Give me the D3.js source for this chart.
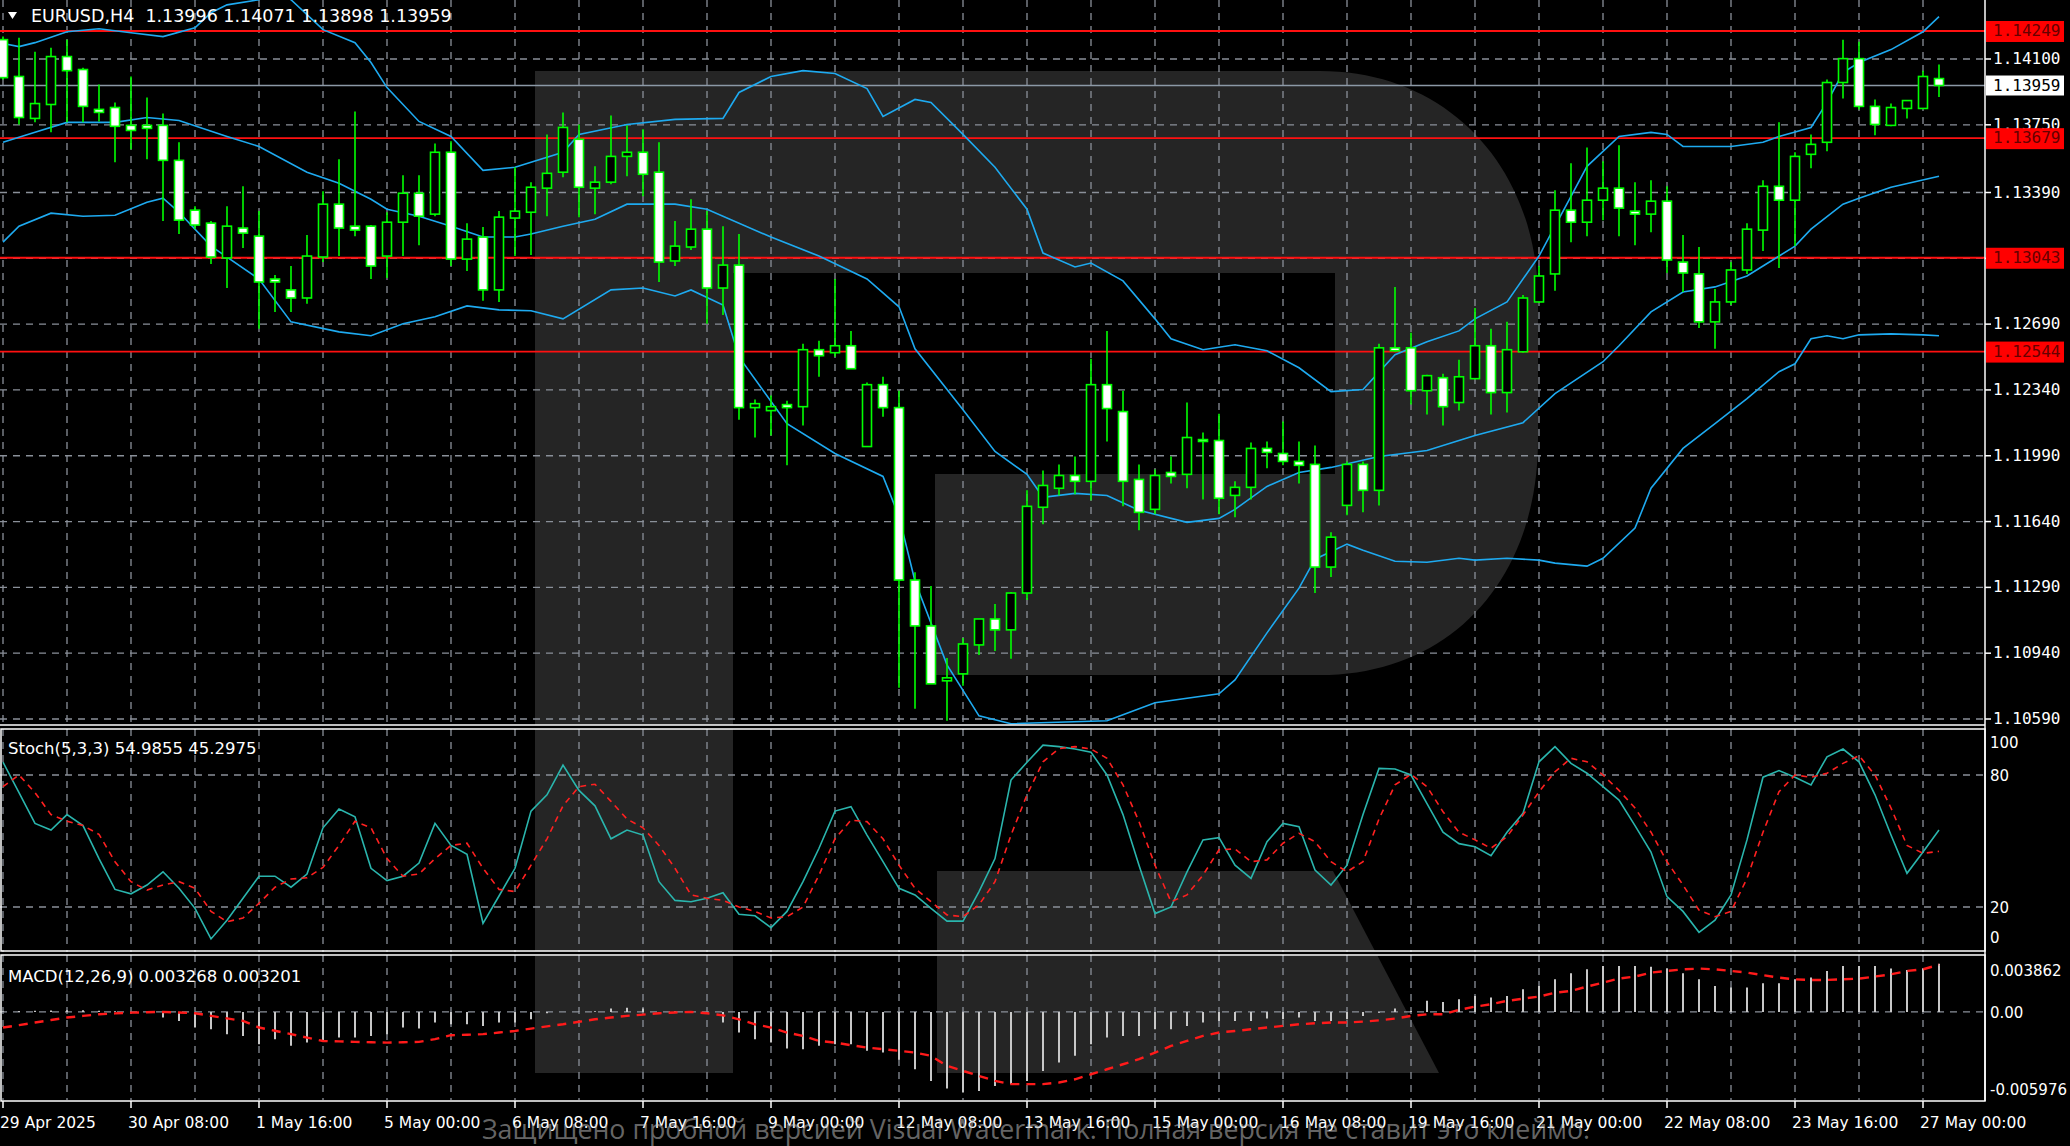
<!DOCTYPE html>
<html><head><meta charset="utf-8">
<script src="https://cdn.jsdelivr.net/npm/d3@7/dist/d3.min.js"></script>
<style>html,body{margin:0;padding:0;background:#000;overflow:hidden}</style>
</head><body><svg id="c" width="2070" height="1146"></svg>
<script>
const openP=[1.14203,1.14007,1.13784,1.13858,1.14113,1.14044,1.13832,1.13842,1.13747,1.13747,1.13747,1.13561,1.13296,1.13227,1.13042,1.13201,1.13158,1.12930,1.12872,1.12829,1.13047,1.13328,1.13211,1.13211,1.13052,1.13232,1.13386,1.13275,1.13604,1.13036,1.13153,1.12872,1.13254,1.13285,1.13413,1.13498,1.13673,1.13413,1.13445,1.13582,1.13604,1.13498,1.13026,1.13100,1.13195,1.12882,1.13004,1.12246,1.12230,1.12262,1.12251,1.12554,1.12538,1.12575,1.12039,1.12368,1.12246,1.11329,1.11085,1.10793,1.10830,1.10984,1.11122,1.11064,1.11260,1.11716,1.11817,1.11885,1.11854,1.12368,1.12225,1.11864,1.11705,1.11901,1.11891,1.12076,1.12071,1.11779,1.11822,1.12029,1.12002,1.11960,1.11944,1.11398,1.11726,1.11944,1.11806,1.12564,1.12564,1.12336,1.12405,1.12273,1.12400,1.12575,1.12326,1.12543,1.12808,1.12957,1.13296,1.13232,1.13349,1.13413,1.13291,1.13275,1.13344,1.13020,1.12957,1.12702,1.12808,1.12978,1.13190,1.13423,1.13349,1.13593,1.13657,1.13975,1.14102,1.13848,1.13747,1.13837,1.13837,1.13996];
const highP=[1.14219,1.14213,1.14139,1.14160,1.14203,1.14054,1.13964,1.13869,1.14007,1.13895,1.13810,1.13657,1.13317,1.13238,1.13317,1.13423,1.13291,1.12951,1.12999,1.13164,1.13397,1.13567,1.13821,1.13217,1.13285,1.13482,1.13482,1.13651,1.13662,1.13227,1.13206,1.13291,1.13524,1.13445,1.13699,1.13816,1.13752,1.13529,1.13800,1.13747,1.13726,1.13657,1.13238,1.13354,1.13291,1.13211,1.13169,1.12289,1.12310,1.12283,1.12585,1.12601,1.12930,1.12654,1.12379,1.12410,1.12336,1.11371,1.11297,1.10915,1.11021,1.11122,1.11201,1.11265,1.11806,1.11912,1.11944,1.11986,1.12506,1.12654,1.12336,1.11944,1.11917,1.11986,1.12273,1.12113,1.12214,1.11854,1.12060,1.12066,1.12172,1.12066,1.12045,1.11583,1.11960,1.11960,1.12585,1.12888,1.12644,1.12421,1.12426,1.12501,1.12776,1.12665,1.12702,1.12845,1.12999,1.13402,1.13545,1.13630,1.13556,1.13641,1.13445,1.13455,1.13423,1.13164,1.13100,1.12877,1.13020,1.13227,1.13455,1.13763,1.13604,1.13699,1.13991,1.14203,1.14192,1.13885,1.13863,1.13879,1.14038,1.14071];
const lowP=[1.13991,1.13752,1.13763,1.13710,1.13763,1.13763,1.13768,1.13551,1.13620,1.13567,1.13238,1.13169,1.13195,1.13010,1.12882,1.13095,1.12665,1.12755,1.12755,1.12798,1.13020,1.13052,1.13158,1.12930,1.12935,1.13052,1.13110,1.13264,1.12999,1.12973,1.12814,1.12808,1.13052,1.13057,1.13264,1.13471,1.13259,1.13275,1.13434,1.13476,1.13370,1.12914,1.12999,1.13084,1.12692,1.12739,1.12182,1.12087,1.12098,1.11939,1.12151,1.12410,1.12517,1.12453,1.12039,1.12198,1.10756,1.10645,1.10777,1.10581,1.10767,1.10931,1.10952,1.10910,1.11223,1.11626,1.11779,1.11785,1.11753,1.12066,1.11721,1.11594,1.11679,1.11843,1.11817,1.11758,1.11679,1.11663,1.11758,1.11923,1.11939,1.11843,1.11260,1.11345,1.11673,1.11689,1.11726,1.12543,1.12262,1.12209,1.12151,1.12230,1.12400,1.12209,1.12220,1.12538,1.12803,1.12867,1.13126,1.13158,1.13243,1.13158,1.13110,1.13179,1.12962,1.12861,1.12670,1.12559,1.12792,1.12957,1.13079,1.12988,1.13105,1.13519,1.13609,1.13890,1.13832,1.13694,1.13742,1.13784,1.13837,1.13898];
const closeP=[1.14001,1.13789,1.13863,1.14113,1.14038,1.13848,1.13816,1.13742,1.13720,1.13731,1.13561,1.13243,1.13217,1.13047,1.13211,1.13174,1.12914,1.12914,1.12829,1.13052,1.13328,1.13201,1.13190,1.12999,1.13232,1.13386,1.13264,1.13604,1.13036,1.13142,1.12872,1.13259,1.13291,1.13418,1.13492,1.13736,1.13418,1.13445,1.13582,1.13604,1.13487,1.13020,1.13105,1.13195,1.12882,1.13004,1.12246,1.12267,1.12251,1.12246,1.12554,1.12522,1.12575,1.12453,1.12368,1.12246,1.11329,1.11085,1.10777,1.10809,1.10989,1.11122,1.11064,1.11260,1.11721,1.11832,1.11885,1.11854,1.12368,1.12241,1.11854,1.11689,1.11885,1.11880,1.12087,1.12066,1.11764,1.11822,1.12029,1.12008,1.11960,1.11939,1.11398,1.11557,1.11944,1.11806,1.12564,1.12548,1.12336,1.12416,1.12251,1.12410,1.12575,1.12326,1.12554,1.12829,1.12946,1.13296,1.13232,1.13349,1.13413,1.13307,1.13275,1.13344,1.13031,1.12962,1.12702,1.12808,1.12978,1.13195,1.13423,1.13349,1.13582,1.13646,1.13975,1.14102,1.13848,1.13752,1.13842,1.13879,1.14007,1.13959];

const bbUpper=[[0,1.14182],[1,1.14166],[2,1.14187],[4,1.14245],[6,1.14261],[8,1.14240],[10,1.14219],[12,1.14266],[13,1.14346],[14,1.14388],[16,1.14415],[17,1.14479],[18,1.14415],[20,1.14256],[22,1.14187],[23,1.14081],[24,1.13948],[26,1.13768],[28,1.13688],[30,1.13508],[32,1.13524],[35,1.13604],[36,1.13699],[39,1.13752],[42,1.13779],[45,1.13784],[46,1.13922],[48,1.14007],[50,1.14038],[52,1.14023],[54,1.13943],[55,1.13795],[57,1.13885],[58,1.13869],[60,1.13699],[62,1.13524],[64,1.13301],[65,1.13068],[67,1.12994],[68,1.13015],[70,1.12920],[72,1.12718],[73,1.12612],[75,1.12554],[77,1.12580],[79,1.12548],[81,1.12458],[83,1.12331],[85,1.12342],[87,1.12527],[89,1.12596],[91,1.12654],[92,1.12718],[94,1.12808],[96,1.13052],[97,1.13211],[98,1.13370],[99,1.13529],[101,1.13688],[103,1.13710],[104,1.13699],[105,1.13635],[108,1.13635],[110,1.13657],[111,1.13688],[113,1.13736],[114,1.13869],[115,1.14028],[116,1.14081],[118,1.14150],[120,1.14245],[121,1.14325]];
const bbMiddle=[[0,1.13657],[2,1.13710],[4,1.13763],[7,1.13763],[9,1.13789],[11,1.13773],[14,1.13688],[16,1.13635],[19,1.13498],[21,1.13439],[23,1.13354],[24,1.13301],[26,1.13264],[28,1.13211],[30,1.13153],[32,1.13153],[33,1.13169],[35,1.13211],[37,1.13248],[39,1.13328],[42,1.13328],[44,1.13301],[48,1.13153],[51,1.13052],[54,1.12930],[56,1.12782],[57,1.12559],[60,1.12235],[62,1.12013],[64,1.11891],[65,1.11769],[67,1.11790],[69,1.11779],[71,1.11700],[74,1.11636],[76,1.11657],[77,1.11705],[79,1.11827],[81,1.11901],[83,1.11928],[86,1.11986],[89,1.12018],[92,1.12098],[95,1.12166],[97,1.12320],[100,1.12490],[101,1.12575],[103,1.12755],[105,1.12861],[107,1.12888],[109,1.12946],[110,1.12999],[112,1.13105],[113,1.13195],[115,1.13328],[116,1.13360],[118,1.13418],[121,1.13476]];
const bbLower=[[0,1.13126],[1,1.13211],[3,1.13280],[5,1.13264],[7,1.13269],[9,1.13338],[10,1.13360],[11,1.13285],[13,1.13105],[16,1.12930],[18,1.12702],[21,1.12649],[23,1.12628],[25,1.12692],[27,1.12729],[29,1.12787],[31,1.12766],[33,1.12761],[35,1.12718],[38,1.12872],[40,1.12882],[42,1.12840],[43,1.12872],[45,1.12792],[46,1.12516],[49,1.12161],[52,1.12002],[55,1.11880],[56,1.11668],[57,1.11323],[59,1.10878],[61,1.10607],[63,1.10565],[69,1.10581],[70,1.10613],[72,1.10676],[76,1.10724],[77,1.10798],[79,1.11048],[81,1.11286],[82,1.11440],[84,1.11520],[85,1.11488],[87,1.11429],[89,1.11424],[91,1.11445],[92,1.11435],[94,1.11445],[96,1.11435],[97,1.11419],[99,1.11403],[100,1.11445],[102,1.11605],[103,1.11817],[105,1.12029],[107,1.12161],[109,1.12294],[111,1.12437],[112,1.12479],[113,1.12612],[114,1.12628],[115,1.12612],[116,1.12633],[118,1.12638],[120,1.12633],[121,1.12628]];

const stochK=[85.8,72,58,55,62,57,42,28,26,30,36,28.5,19.4,5.5,14,24,34,34,29,35,56,64.5,61,37.6,32,34,40,58,48,44,12.6,25,37.6,63.6,71,84.5,73,66,51,55,52.7,31.5,23,22.4,24,26.5,16.7,16,10.6,18,31.5,46.7,63.6,65.6,52.7,40.6,28.5,25.5,19.4,13.6,13.6,27,42,77.7,85.8,93.6,92.9,91.8,90.3,80,62,39,17,20,36,50.5,51.5,39,33,49.7,58,56.5,36.8,30,39,62,83,82.7,80,67,54,48.8,47.4,43.3,54,62.6,86,92.9,85.3,80.8,74.7,68.6,57,45,24.7,18,8.5,14,25.5,50.5,79,82,79,75.5,88.3,91.8,86,71,52.7,35.3,45,54.9855];
const stochD=[74.7,80,72,62,59,57,53,40.6,31.5,27.7,30,31.5,28.5,18,13.3,15,21.7,29,32.7,33.3,38,48,59,56,42,34,35,42,48,49,37.6,28,27,39,51,66,74.7,75.8,68,60,56,48,37.6,25.5,24,23,20,18,15,15.6,20,34.5,51,59.5,58.8,51,39,28.5,22.4,16.4,15.6,21,31.5,52.7,71,86,92,92.9,91.8,87.6,75.5,58.8,39,22.4,25.5,34.5,46,46.4,40.6,41.4,49,53.5,49.7,40.6,36,40.6,60,75.5,80.3,74.7,63.3,54,50.5,46.7,52,61.8,72.4,81.5,87.6,86,80,73,65,54,40.6,30,18.6,15.6,18,33,54,72.4,80,79,80.8,85.3,88.8,80,65,48,44.4,45.2975];
const macdHist=[0.00004,0.00006,0.00008,0.0001,0.00012,0.00012,0.00008,0.00004,-0.00002,-0.00008,-0.00038,-0.00061,-0.00106,-0.00117,-0.00151,-0.00163,-0.00219,-0.00185,-0.0023,-0.00208,-0.00197,-0.00174,-0.00174,-0.00163,-0.00151,-0.00106,-0.00113,-0.00072,-0.00084,-0.00084,-0.00095,-0.00072,-0.00072,-0.0005,-0.00009,0,0.00002,0.00005,0.00023,0.00029,0.00023,0,0.00005,0.00005,-0.00005,-0.00072,-0.0014,-0.00185,-0.00208,-0.00249,-0.00253,-0.0023,-0.00219,-0.00219,-0.00264,-0.00276,-0.00325,-0.00389,-0.00468,-0.0052,-0.00547,-0.00536,-0.00502,-0.0049,-0.00468,-0.004,-0.00343,-0.00298,-0.00219,-0.00174,-0.00163,-0.00163,-0.00118,-0.00118,-0.00095,-0.00072,-0.00061,-0.00061,-0.00061,-0.00045,-0.0005,-0.00038,-0.00061,-0.00061,-0.0005,-0.00027,-0.00005,0.00023,0.00007,0.00075,0.00068,0.00086,0.00108,0.00097,0.00108,0.00154,0.00176,0.00221,0.00262,0.00289,0.00312,0.00312,0.00312,0.00307,0.00294,0.00262,0.00221,0.00176,0.00165,0.00165,0.00194,0.00194,0.00221,0.00233,0.00278,0.00312,0.00312,0.00312,0.00294,0.00285,0.00294,0.003268];
const macdSignal=[-0.00106,-0.0009,-0.00072,-0.00055,-0.00038,-0.00027,-0.00016,-0.0001,-0.00005,-0.00002,0,-0.00004,-0.00009,-0.00027,-0.00044,-0.00061,-0.00106,-0.00128,-0.00151,-0.00174,-0.00197,-0.002,-0.00203,-0.00206,-0.00208,-0.00206,-0.00203,-0.00185,-0.00158,-0.00155,-0.00151,-0.0014,-0.00129,-0.00113,-0.00098,-0.00084,-0.00067,-0.0005,-0.00038,-0.00027,-0.00018,-0.00009,-0.00004,0,-0.00009,-0.00023,-0.0005,-0.00084,-0.00106,-0.0014,-0.00163,-0.00197,-0.00208,-0.00226,-0.00242,-0.00253,-0.00264,-0.00276,-0.00298,-0.00366,-0.004,-0.00434,-0.00468,-0.0049,-0.0049,-0.0049,-0.00479,-0.00457,-0.00423,-0.00389,-0.00355,-0.00321,-0.00276,-0.00231,-0.00197,-0.00163,-0.0014,-0.00129,-0.00118,-0.00106,-0.00095,-0.00084,-0.00077,-0.00072,-0.00072,-0.00066,-0.00057,-0.00045,-0.00027,-0.00016,-0.00016,0.00014,0.00036,0.00052,0.00075,0.0009,0.00104,0.00131,0.00142,0.00172,0.00199,0.00226,0.0024,0.00267,0.00278,0.00289,0.00294,0.00289,0.00278,0.00267,0.00249,0.00233,0.00221,0.00217,0.00217,0.00221,0.00226,0.0024,0.00255,0.00278,0.00289,0.003201];

const priceTicks=[1.14100,1.13750,1.13390,1.13040,1.12690,1.12340,1.11990,1.11640,1.11290,1.10940,1.10590];
const levels=[1.14249,1.13679,1.13043,1.12544];
const currentPrice=1.13959;
const stochLevels=[80,20];
const stochTicks=[100,80,20,0];
const macdTicks=[0.003862,0.00,-0.005976];
const dateIdx=[0,8,16,24,32,40,48,56,64,72,80,88,96,104,112,120];
const dateLabels=["29 Apr 2025","30 Apr 08:00","1 May 16:00","5 May 00:00","6 May 08:00","7 May 16:00","9 May 00:00","12 May 08:00","13 May 16:00","15 May 00:00","16 May 08:00","19 May 16:00","21 May 00:00","22 May 08:00","23 May 16:00","27 May 00:00"];
const title="EURUSD,H4  1.13996 1.14071 1.13898 1.13959";
const stochTitle="Stoch(5,3,3) 54.9855 45.2975";
const macdTitle="MACD(12,26,9) 0.003268 0.003201";
const watermark="Защищено пробной версией Visual Watermark. Полная версия не ставит это клеймо.";

const svg=d3.select("#c");
const RX=1985;
const x=d3.scaleLinear().domain([0,121]).range([3,1939]);
const y=d3.scaleLinear().domain([1.10590,1.14100]).range([719,59]);
const ys=d3.scaleLinear().domain([0,100]).range([951,731]);
const ym=d3.scaleLinear().domain([-0.005976,0.003862]).range([1100,955]);
const GRID="#8a9099", BLUE="#1eaaf0", LIME="#00ff00";
svg.append("rect").attr("width",2070).attr("height",1146).attr("fill","#000");
const defs=svg.append("defs");
[["cm",0,0,RX,725],["cs",0,729,RX,223],["cmacd",0,955,RX,146]].forEach(c=>defs.append("clipPath").attr("id",c[0]).append("rect").attr("x",c[1]).attr("y",c[2]).attr("width",c[3]).attr("height",c[4]));

// logo
const logo=svg.append("g").attr("fill","#252525");
logo.append("path").attr("d","M535,71 H1320 C1450,71 1538,170 1538,300 V440 C1538,580 1450,675 1320,675 H935 V1073 H535 Z");
logo.append("rect").attr("x",733).attr("y",273).attr("width",602).attr("height",201).attr("fill","#000");
logo.append("rect").attr("x",733).attr("y",474).attr("width",202).attr("height",201).attr("fill","#000");
logo.append("rect").attr("x",535).attr("y",725).attr("width",1450).attr("height",4).attr("fill","#000");
logo.append("path").attr("d","M937,871 H1333 L1439,1073 H937 Z");
logo.append("rect").attr("x",733).attr("y",675).attr("width",204).attr("height",398).attr("fill","#000");
logo.append("rect").attr("x",0).attr("y",951).attr("width",RX).attr("height",5).attr("fill","#000");

// grids
const dash="7,6";
const gv=svg.append("g").attr("stroke",GRID).attr("stroke-dasharray",dash).attr("stroke-width",1.3);
d3.range(0,122,4).forEach(i=>{
  [[0,725],[729,952],[955,1100]].forEach(s=>gv.append("line").attr("x1",x(i)).attr("x2",x(i)).attr("y1",s[0]).attr("y2",s[1]));
});
priceTicks.forEach(p=>gv.append("line").attr("x1",0).attr("x2",RX).attr("y1",y(p)).attr("y2",y(p)));
stochLevels.forEach(v=>gv.append("line").attr("x1",0).attr("x2",RX).attr("y1",ys(v)).attr("y2",ys(v)));
gv.append("line").attr("x1",0).attr("x2",RX).attr("y1",ym(0)).attr("y2",ym(0));

// main panel
const gm=svg.append("g").attr("clip-path","url(#cm)");
gm.append("line").attr("x1",0).attr("x2",RX).attr("y1",y(currentPrice)).attr("y2",y(currentPrice)).attr("stroke","#8c99a6").attr("stroke-width",1.5);
levels.forEach(p=>gm.append("line").attr("x1",0).attr("x2",RX).attr("y1",y(p)).attr("y2",y(p)).attr("stroke","#ff1010").attr("stroke-width",1.8));
const ln=d3.line().x(d=>x(d[0])).y(d=>y(d[1]));
[bbUpper,bbMiddle,bbLower].forEach(b=>gm.append("path").attr("d",ln(b)).attr("fill","none").attr("stroke",BLUE).attr("stroke-width",1.6));
closeP.forEach((c,i)=>{
  const o=openP[i],cx=x(i);
  gm.append("line").attr("x1",cx).attr("x2",cx).attr("y1",y(highP[i])).attr("y2",y(lowP[i])).attr("stroke",LIME).attr("stroke-width",1.6);
  const t=y(Math.max(o,c)),b=y(Math.min(o,c));
  gm.append("rect").attr("x",cx-4.5).attr("y",t).attr("width",9).attr("height",Math.max(b-t,1.5))
    .attr("fill",c<o?"#fff":"#000").attr("stroke",LIME).attr("stroke-width",1.6);
});

// stoch
const gs=svg.append("g").attr("clip-path","url(#cs)");
const ls=d3.line().x((d,i)=>x(i)).y(d=>ys(d));
gs.append("path").attr("d",ls(stochK)).attr("fill","none").attr("stroke","#2ab5ad").attr("stroke-width",1.6);
gs.append("path").attr("d",ls(stochD)).attr("fill","none").attr("stroke","#ff2020").attr("stroke-width",1.6).attr("stroke-dasharray","6,5");

// macd
const gmc=svg.append("g").attr("clip-path","url(#cmacd)");
macdHist.forEach((v,i)=>gmc.append("line").attr("x1",x(i)).attr("x2",x(i)).attr("y1",ym(0)).attr("y2",ym(v)).attr("stroke","#c8c8c8").attr("stroke-width",2));
gmc.append("path").attr("d",d3.line().x((d,i)=>x(i)).y(d=>ym(d))(macdSignal)).attr("fill","none").attr("stroke","#ff1a1a").attr("stroke-width",2.4).attr("stroke-dasharray","9,7");

// borders
const bd=svg.append("g").attr("fill","none").attr("stroke","#fff").attr("stroke-width",1.5);
bd.append("line").attr("x1",RX).attr("x2",RX).attr("y1",0).attr("y2",1101);
bd.append("line").attr("x1",0).attr("x2",RX).attr("y1",725).attr("y2",725);
bd.append("rect").attr("x",1).attr("y",729).attr("width",RX-1).attr("height",222);
bd.append("rect").attr("x",1).attr("y",955).attr("width",RX-1).attr("height",146);

// right axis
const ax=svg.append("g").attr("font-family","DejaVu Sans Mono").attr("font-size",16).attr("fill","#fff");
priceTicks.forEach(p=>{
  ax.append("line").attr("x1",RX).attr("x2",RX+6).attr("y1",y(p)).attr("y2",y(p)).attr("stroke","#fff").attr("stroke-width",1.5);
  ax.append("text").attr("x",1993).attr("y",y(p)+5).text(p.toFixed(5));
});
levels.forEach(p=>{
  ax.append("rect").attr("x",1986).attr("y",y(p)-10).attr("width",78).attr("height",21).attr("fill","#ff0000");
  ax.append("text").attr("x",1993).attr("y",y(p)+5).attr("fill","#600").text(p.toFixed(5));
});
ax.append("rect").attr("x",1986).attr("y",y(currentPrice)-10).attr("width",78).attr("height",20).attr("fill","#fff");
ax.append("text").attr("x",1993).attr("y",y(currentPrice)+5).attr("fill","#000").text(currentPrice.toFixed(5));
const sa=svg.append("g").attr("font-family","DejaVu Sans").attr("font-size",15).attr("fill","#fff");
stochTicks.forEach(v=>sa.append("text").attr("x",1990).attr("y",v===100?748:v===0?943:ys(v)+6).text(v));
macdTicks.forEach(v=>sa.append("text").attr("x",1990).attr("y",v>0.001?976:v<-0.001?1095:ym(v)+6).text(v===0?"0.00":v.toFixed(6)));

// x axis
const xa=svg.append("g").attr("font-family","DejaVu Sans").attr("font-size",15.5).attr("fill","#fff");
dateIdx.forEach((d,k)=>{
  xa.append("line").attr("x1",x(d)).attr("x2",x(d)).attr("y1",1101).attr("y2",1108).attr("stroke","#fff").attr("stroke-width",1.5);
  xa.append("text").attr("x",x(d)-3).attr("y",1128).text(dateLabels[k]);
});

// titles
const tt=svg.append("g").attr("font-family","DejaVu Sans").attr("fill","#fff");
tt.append("path").attr("d","M8,12 L17,12 L12.5,19 Z").attr("fill","#fff");
tt.append("text").attr("x",31).attr("y",22).attr("font-size",17.5).attr("xml:space","preserve").text(title);
tt.append("text").attr("x",8).attr("y",754).attr("font-size",16.5).text(stochTitle);
tt.append("text").attr("x",8).attr("y",982).attr("font-size",16.5).text(macdTitle);

// watermark
svg.append("text").attr("x",482).attr("y",1139).attr("font-family","Open Sans").attr("font-size",27)
  .attr("textLength",1108).attr("lengthAdjust","spacingAndGlyphs").attr("fill","rgba(190,190,190,0.55)").text(watermark);
</script></body></html>
